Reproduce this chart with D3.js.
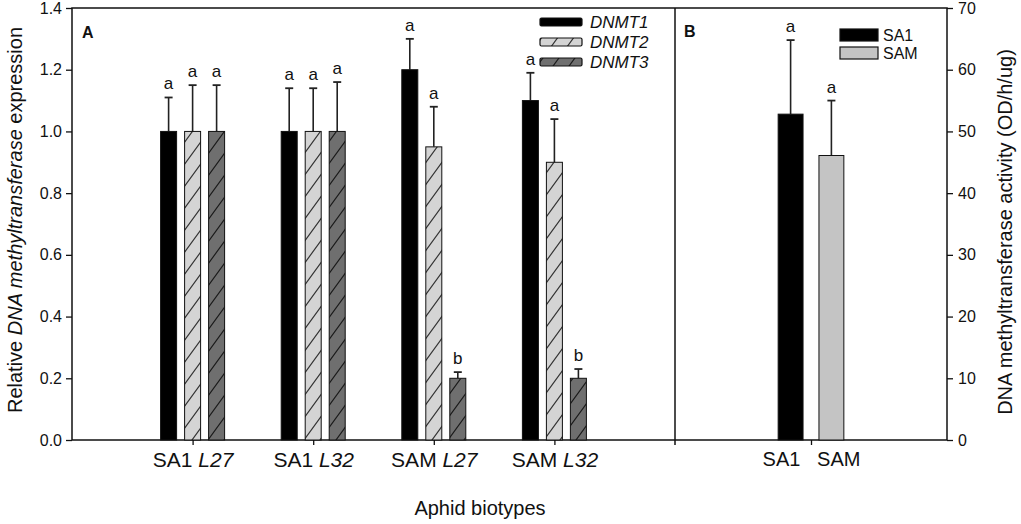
<!DOCTYPE html>
<html>
<head>
<meta charset="utf-8">
<script src="https://cdn.jsdelivr.net/npm/d3@7"></script>
<style>
  body { margin: 0; background: #fff; }
  text { font-family: "Liberation Sans", Arial, sans-serif; fill: #111; }
  .axis text { font-size: 16px; }
  .axis line, .axis path { stroke: #111; stroke-width: 1.3; }
</style>
</head>
<body>
<div id="wrapper"></div>
<script>
// 1. Data

const groupBiotype = ["SA1", "SA1", "SAM", "SAM"];
const groupLine = ["L27", "L32", "L27", "L32"];
const groups = groupBiotype.map((b, i) => `${b} ${groupLine[i]}`);
const genes = ["DNMT1", "DNMT2", "DNMT3"];

const dnmt1Mean = [1.00, 1.00, 1.20, 1.10];
const dnmt1Err  = [0.11, 0.14, 0.10, 0.09];
const dnmt2Mean = [1.00, 1.00, 0.95, 0.90];
const dnmt2Err  = [0.15, 0.14, 0.13, 0.14];
const dnmt3Mean = [1.00, 1.00, 0.20, 0.20];
const dnmt3Err  = [0.15, 0.16, 0.02, 0.03];
const dnmt1Sig = ["a", "a", "a", "a"];
const dnmt2Sig = ["a", "a", "a", "a"];
const dnmt3Sig = ["a", "a", "b", "b"];

const activityGroups = ["SA1", "SAM"];
const activityMean = [52.8, 46.1];
const activityErr  = [12.0, 8.9];
const activitySig  = ["a", "a"];

const yTicksA = [0, 0.2, 0.4, 0.6, 0.8, 1.0, 1.2, 1.4];
const yTicksB = [0, 10, 20, 30, 40, 50, 60, 70];

const expression = [];
groups.forEach((g, i) => {
  expression.push({ group: g, gene: "DNMT1", mean: dnmt1Mean[i], err: dnmt1Err[i], sig: dnmt1Sig[i] });
  expression.push({ group: g, gene: "DNMT2", mean: dnmt2Mean[i], err: dnmt2Err[i], sig: dnmt2Sig[i] });
  expression.push({ group: g, gene: "DNMT3", mean: dnmt3Mean[i], err: dnmt3Err[i], sig: dnmt3Sig[i] });
});
const activity = activityGroups.map((g, i) => ({
  group: g, mean: activityMean[i], err: activityErr[i], sig: activitySig[i]
}));

// 2. Dimensions

const dimensions = {
  width: 1021,
  height: 524,
  left: 72,
  divider: 675,
  right: 947,
  top: 8,
  bottom: 440,
};

// 3. Canvas

const svg = d3.select("#wrapper")
  .append("svg")
  .attr("width", dimensions.width)
  .attr("height", dimensions.height);

const defs = svg.append("defs");
const addHatch = (id, fill, stroke) => {
  const p = defs.append("pattern")
    .attr("id", id)
    .attr("patternUnits", "userSpaceOnUse")
    .attr("width", 16)
    .attr("height", 22);
  p.append("rect").attr("width", 16).attr("height", 22).attr("fill", fill);
  p.append("path")
    .attr("d", "M-2,24.75 L18,-2.75 M-18,24.75 L2,-2.75 M14,24.75 L34,-2.75")
    .attr("stroke", stroke)
    .attr("stroke-width", 1.2);
};
addHatch("hatch-light", "#d4d4d4", "#333");
addHatch("hatch-dark", "#6f6f6f", "#1a1a1a");

const geneFill = {
  DNMT1: "#000",
  DNMT2: "url(#hatch-light)",
  DNMT3: "url(#hatch-dark)",
};
const activityFill = { SA1: "#000", SAM: "#c4c4c4" };

// 4. Scales

const xA = d3.scalePoint()
  .domain(groups)
  .range([dimensions.left, dimensions.divider])
  .padding(1);

const xGene = d3.scaleBand()
  .domain(genes)
  .range([-36, 36])
  .paddingInner(1 / 3)
  .paddingOuter(1 / 6);

const yA = d3.scaleLinear()
  .domain([0, 1.4])
  .range([dimensions.bottom, dimensions.top]);

const xB = d3.scalePoint()
  .domain(["SA1 SAM"])
  .range([dimensions.divider, dimensions.right])
  .padding(0.5);

const xActivity = d3.scaleBand()
  .domain(activityGroups)
  .range([xB("SA1 SAM") - 41, xB("SA1 SAM") + 41])
  .paddingInner(0.39)
  .paddingOuter(0.2);

const yB = d3.scaleLinear()
  .domain([0, 70])
  .range([dimensions.bottom, dimensions.top]);

// 5. Axes and frame

const leftAxis = svg.append("g")
  .attr("class", "axis")
  .attr("transform", `translate(${dimensions.left},0)`)
  .call(d3.axisLeft(yA).tickValues(yTicksA).tickFormat(d3.format(".1f"))
    .tickSize(6).tickSizeOuter(0).tickPadding(4));
leftAxis.select(".domain").remove();

const rightAxis = svg.append("g")
  .attr("class", "axis")
  .attr("transform", `translate(${dimensions.right},0)`)
  .call(d3.axisRight(yB).tickValues(yTicksB).tickSize(6).tickSizeOuter(0).tickPadding(5));
rightAxis.select(".domain").remove();

const bottomA = svg.append("g")
  .attr("class", "axis")
  .attr("transform", `translate(0,${dimensions.bottom})`)
  .call(d3.axisBottom(xA).tickSize(5).tickSizeOuter(0).tickPadding(7));
bottomA.select(".domain").remove();
bottomA.selectAll(".tick text")
  .style("font-size", "21px")
  .each(function (d, i) {
    const t = d3.select(this).text(null);
    t.append("tspan").text(groupBiotype[i] + " ");
    t.append("tspan").style("font-style", "italic").text(groupLine[i]);
  });

const bottomB = svg.append("g")
  .attr("class", "axis")
  .attr("transform", `translate(0,${dimensions.bottom})`)
  .call(d3.axisBottom(xB).tickSize(5).tickSizeOuter(0).tickPadding(7));
bottomB.select(".domain").remove();
bottomB.selectAll(".tick text")
  .style("font-size", "20px")
  .style("white-space", "pre")
  .text("SA1   SAM");

svg.append("rect")
  .attr("x", dimensions.left)
  .attr("y", dimensions.top)
  .attr("width", dimensions.right - dimensions.left)
  .attr("height", dimensions.bottom - dimensions.top)
  .attr("fill", "none")
  .attr("stroke", "#111")
  .attr("stroke-width", 1.5);

svg.append("line")
  .attr("x1", dimensions.divider)
  .attr("x2", dimensions.divider)
  .attr("y1", dimensions.top)
  .attr("y2", dimensions.bottom + 5)
  .attr("stroke", "#111")
  .attr("stroke-width", 1.5);

// 6. Bars, panel A

const barsA = svg.append("g");
const barX = d => xA(d.group) + xGene(d.gene);

barsA.selectAll("line.err")
  .data(expression)
  .join("line")
  .attr("class", "err")
  .attr("x1", d => barX(d) + xGene.bandwidth() / 2)
  .attr("x2", d => barX(d) + xGene.bandwidth() / 2)
  .attr("y1", d => yA(d.mean))
  .attr("y2", d => yA(d.mean + d.err))
  .attr("stroke", "#222")
  .attr("stroke-width", 1.6);

barsA.selectAll("line.cap")
  .data(expression)
  .join("line")
  .attr("class", "cap")
  .attr("x1", d => barX(d) + xGene.bandwidth() / 2 - 4)
  .attr("x2", d => barX(d) + xGene.bandwidth() / 2 + 4)
  .attr("y1", d => yA(d.mean + d.err))
  .attr("y2", d => yA(d.mean + d.err))
  .attr("stroke", "#222")
  .attr("stroke-width", 1.8);

barsA.selectAll("rect")
  .data(expression)
  .join("rect")
  .attr("x", barX)
  .attr("y", d => yA(d.mean))
  .attr("width", xGene.bandwidth())
  .attr("height", d => yA(0) - yA(d.mean))
  .attr("fill", d => geneFill[d.gene])
  .attr("stroke", "#111")
  .attr("stroke-width", 1);

barsA.selectAll("text")
  .data(expression)
  .join("text")
  .attr("x", d => barX(d) + xGene.bandwidth() / 2)
  .attr("y", d => yA(d.mean + d.err) - 8)
  .attr("text-anchor", "middle")
  .style("font-size", "17px")
  .text(d => d.sig);

// 7. Bars, panel B

const barsB = svg.append("g");
const centerB = d => xActivity(d.group) + xActivity.bandwidth() / 2;

barsB.selectAll("line.err")
  .data(activity)
  .join("line")
  .attr("class", "err")
  .attr("x1", centerB)
  .attr("x2", centerB)
  .attr("y1", d => yB(d.mean))
  .attr("y2", d => yB(d.mean + d.err))
  .attr("stroke", "#222")
  .attr("stroke-width", 1.6);

barsB.selectAll("line.cap")
  .data(activity)
  .join("line")
  .attr("class", "cap")
  .attr("x1", d => centerB(d) - 4)
  .attr("x2", d => centerB(d) + 4)
  .attr("y1", d => yB(d.mean + d.err))
  .attr("y2", d => yB(d.mean + d.err))
  .attr("stroke", "#222")
  .attr("stroke-width", 1.8);

barsB.selectAll("rect")
  .data(activity)
  .join("rect")
  .attr("x", d => xActivity(d.group))
  .attr("y", d => yB(d.mean))
  .attr("width", xActivity.bandwidth())
  .attr("height", d => yB(0) - yB(d.mean))
  .attr("fill", d => activityFill[d.group])
  .attr("stroke", "#111")
  .attr("stroke-width", 1);

barsB.selectAll("text")
  .data(activity)
  .join("text")
  .attr("x", centerB)
  .attr("y", d => yB(d.mean + d.err) - 8)
  .attr("text-anchor", "middle")
  .style("font-size", "17px")
  .text(d => d.sig);

// 8. Legends and labels

const legendA = svg.append("g").attr("transform", "translate(540,18)");
genes.forEach((g, i) => {
  legendA.append("rect")
    .attr("x", 0)
    .attr("y", i * 20)
    .attr("width", 42)
    .attr("height", 8)
    .attr("rx", 1.5)
    .attr("fill", geneFill[g])
    .attr("stroke", "#111")
    .attr("stroke-width", 1.2);
  legendA.append("text")
    .attr("x", 50)
    .attr("y", i * 20 + 10)
    .style("font-size", "17px")
    .style("font-style", "italic")
    .text(g);
});

const legendB = svg.append("g").attr("transform", "translate(840,29)");
activityGroups.forEach((g, i) => {
  legendB.append("rect")
    .attr("x", 0)
    .attr("y", i * 18)
    .attr("width", 38)
    .attr("height", 12)
    .attr("fill", activityFill[g])
    .attr("stroke", "#111")
    .attr("stroke-width", 1.2);
  legendB.append("text")
    .attr("x", 43)
    .attr("y", i * 18 + 12)
    .style("font-size", "16px")
    .text(g);
});

svg.append("text")
  .attr("x", 82).attr("y", 38)
  .style("font-size", "16px").style("font-weight", "bold")
  .text("A");
svg.append("text")
  .attr("x", 684).attr("y", 37)
  .style("font-size", "16px").style("font-weight", "bold")
  .text("B");

const yTitleA = svg.append("text")
  .attr("transform", "translate(22,220) rotate(-90)")
  .attr("text-anchor", "middle")
  .style("font-size", "20px");
yTitleA.append("tspan").text("Relative ");
yTitleA.append("tspan").style("font-style", "italic").text("DNA methyltransferase");
yTitleA.append("tspan").text(" expression");

svg.append("text")
  .attr("transform", "translate(1012,232) rotate(-90)")
  .attr("text-anchor", "middle")
  .style("font-size", "20px")
  .text("DNA methyltransferase activity (OD/h/ug)");

svg.append("text")
  .attr("x", 480)
  .attr("y", 515)
  .attr("text-anchor", "middle")
  .style("font-size", "20px")
  .text("Aphid biotypes");
</script>
</body>
</html>
